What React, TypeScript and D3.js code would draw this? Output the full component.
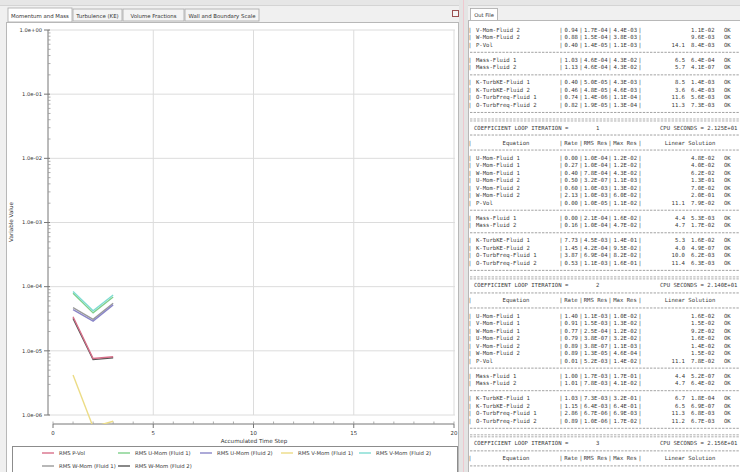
import React from "react";
import * as d3 from "d3";

// ---------- chart data ----------
const timeSteps = [1, 2, 3];
const seriesNames = [
  "RMS P-Vol",
  "RMS U-Mom (Fluid 1)",
  "RMS U-Mom (Fluid 2)",
  "RMS V-Mom (Fluid 1)",
  "RMS V-Mom (Fluid 2)",
  "RMS W-Mom (Fluid 1)",
  "RMS W-Mom (Fluid 2)",
];
const pVol = [3.4e-5, 7.6e-6, 8.1e-6];
const uMomF1 = [7.9e-5, 3.9e-5, 6.9e-5];
const uMomF2 = [4.4e-5, 2.9e-5, 5.2e-5];
const vMomF1 = [4.2e-6, 6.5e-7, 8.0e-7];
const vMomF2 = [8.4e-5, 4.2e-5, 7.4e-5];
const wMomF1 = [4.7e-5, 3.1e-5, 5.5e-5];
const wMomF2 = [3.2e-5, 7.3e-6, 7.8e-6];
const seriesColors = ["#d8708a", "#7fd08a", "#8a86c8", "#ecdc86", "#7fdcd2", "#9a9a9a", "#555555"];

const yTicks = [1, 1e-1, 1e-2, 1e-3, 1e-4, 1e-5, 1e-6];
const yTickLabels = ["1.0e+00", "1.0e-01", "1.0e-02", "1.0e-03", "1.0e-04", "1.0e-05", "1.0e-06"];
const xTicks = [0, 5, 10, 15, 20];
const tabNames = ["Momentum and Mass", "Turbulence (KE)", "Volume Fractions", "Wall and Boundary Scale"];

// ---------- out file text data ----------
const eqNames = [
  "U-Mom-Fluid 1", "V-Mom-Fluid 1", "W-Mom-Fluid 1", "U-Mom-Fluid 2", "V-Mom-Fluid 2", "W-Mom-Fluid 2", "P-Vol",
  "Mass-Fluid 1", "Mass-Fluid 2",
  "K-TurbKE-Fluid 1", "K-TurbKE-Fluid 2", "O-TurbFreq-Fluid 1", "O-TurbFreq-Fluid 2",
];
const loopNumbers = ["3", "1", "2", "3"];
const cpuSeconds = ["2.109E+01", "2.125E+01", "2.140E+01", "2.156E+01"];
const block0 = [
  "0.81|1.2E-04|3.4E-03||1.1E-02", "0.77|1.3E-04|4.1E-03||1.3E-02", "0.85|1.1E-04|2.9E-03||1.0E-02",
  "0.79|4.2E-04|3.1E-03||1.2E-02", "0.94|1.7E-04|4.4E-03||1.1E-02", "0.88|1.5E-04|3.8E-03||9.6E-03",
  "0.40|1.4E-05|1.1E-03|14.1|8.4E-03",
  "1.03|4.6E-04|4.3E-02|6.5|6.4E-04", "1.13|4.6E-04|4.3E-02|5.7|4.1E-07",
  "0.40|5.0E-05|4.3E-03|8.5|1.4E-03", "0.46|4.8E-05|4.6E-03|3.6|6.4E-03",
  "0.74|1.4E-06|1.1E-04|11.6|5.6E-03", "0.82|1.9E-05|1.3E-04|11.3|7.3E-03",
];
const block1 = [
  "0.00|1.0E-04|1.2E-02||4.8E-02", "0.27|1.0E-04|1.2E-02||4.0E-02", "0.40|7.8E-04|4.3E-02||6.2E-02",
  "0.50|3.2E-07|1.1E-03||1.3E-01", "0.60|1.0E-03|1.3E-02||7.0E-02", "2.13|1.0E-03|6.0E-02||2.0E-01",
  "0.00|1.0E-05|1.1E-02|11.1|7.9E-02",
  "0.00|2.1E-04|1.6E-02|4.4|5.3E-03", "0.16|1.0E-04|4.7E-02|4.7|1.7E-02",
  "7.73|4.5E-03|1.4E-01|5.3|1.6E-02", "1.45|4.2E-04|9.5E-02|4.0|4.9E-07",
  "3.87|6.9E-04|8.2E-02|10.0|6.2E-03", "0.53|1.1E-03|1.6E-01|11.4|6.3E-03",
];
const block2 = [
  "1.40|1.1E-03|1.0E-02||1.6E-02", "0.91|1.5E-03|1.3E-02||1.5E-02", "0.77|2.5E-04|1.2E-02||9.2E-02",
  "0.79|3.8E-07|3.2E-02||1.6E-02", "0.89|3.8E-07|1.1E-03||1.4E-02", "0.89|1.3E-05|4.6E-04||1.5E-02",
  "0.01|5.2E-03|1.4E-02|11.1|7.8E-02",
  "1.00|1.7E-03|1.7E-01|4.4|5.2E-07", "1.01|7.8E-03|4.1E-02|4.7|6.4E-02",
  "1.03|7.3E-03|3.2E-01|6.7|1.8E-04", "1.15|6.4E-03|6.4E-01|6.5|6.9E-07",
  "2.86|6.7E-06|6.9E-03|11.3|6.8E-03", "0.89|1.0E-06|1.7E-02|11.2|6.7E-03",
];
const block3 = [
  "0.98|6.2E-04|9.1E-03||1.1E-02", "0.95|7.1E-04|1.0E-02||1.2E-02", "0.92|1.9E-04|8.8E-03||8.9E-02",
  "0.90|3.5E-07|2.4E-02||1.4E-02", "0.91|3.4E-07|9.8E-04||1.3E-02", "0.93|1.1E-05|4.0E-04||1.4E-02",
  "0.52|2.7E-03|1.0E-02|11.0|7.5E-02",
  "0.71|1.2E-03|1.2E-01|4.3|5.0E-07", "0.69|5.4E-03|3.0E-02|4.6|6.0E-02",
  "0.85|6.2E-03|2.7E-01|6.6|1.7E-04", "0.88|5.6E-03|5.5E-01|6.4|6.5E-07",
  "0.94|6.3E-06|6.4E-03|11.2|6.6E-03", "0.92|9.2E-07|1.5E-02|11.1|6.5E-03",
];
const blocks = [block0, block1, block2, block3];

type Line = { kind: string; block?: number; row?: number };

function buildLines(): Line[] {
  const out: Line[] = [];
  blocks.forEach((_, b) => {
    out.push({ kind: "head", block: b });
    out.push({ kind: "dash" });
    out.push({ kind: "eqhead" });
    out.push({ kind: "plus" });
    for (let r = 0; r < 7; r++) out.push({ kind: "row", block: b, row: r });
    out.push({ kind: "plus" });
    for (let r = 7; r < 9; r++) out.push({ kind: "row", block: b, row: r });
    out.push({ kind: "plus" });
    for (let r = 9; r < 13; r++) out.push({ kind: "row", block: b, row: r });
    out.push({ kind: "plus" });
    out.push({ kind: "dbl" });
  });
  return out;
}

const MONO = "'DejaVu Sans Mono', 'Liberation Mono', monospace";
const SANS = "'DejaVu Sans', 'Liberation Sans', sans-serif";

function OutFile() {
  const lines = buildLines();
  const pitch = 7.52;
  const y0 = 127.5 - 21 * pitch;
  const fs = 5.6;
  const tc = "#3a3a3a";
  const colBars = [470, 561, 581, 610, 640];
  const els: React.ReactNode[] = [];
  lines.forEach((ln, i) => {
    const y = y0 + i * pitch;
    const isText = ln.kind === "head" || ln.kind === "eqhead" || ln.kind === "row";
    if (isText && (y < 25 || y > 466)) return;
    if (!isText && (y < 23 || y > 471)) return;
    const base = y + 2;
    if (ln.kind === "head") {
      els.push(
        <g key={i} fill={tc} fontFamily={MONO} fontSize={fs}>
          <text x={474} y={base}>COEFFICIENT LOOP ITERATION =</text>
          <text x={596} y={base}>{loopNumbers[ln.block!]}</text>
          <text x={660} y={base}>CPU SECONDS = {cpuSeconds[ln.block!]}</text>
        </g>
      );
    } else if (ln.kind === "dash" || ln.kind === "plus") {
      els.push(
        <line key={i} x1={470} x2={740} y1={y} y2={y} stroke="#8c8c8c" strokeWidth={0.8} strokeDasharray="2.4,1.2" />
      );
    } else if (ln.kind === "dbl") {
      els.push(
        <g key={i} stroke="#8c8c8c" strokeWidth={0.7} strokeDasharray="2.4,1.2">
          <line x1={470} x2={740} y1={y - 1} y2={y - 1} />
          <line x1={470} x2={740} y1={y + 1} y2={y + 1} />
        </g>
      );
    } else if (ln.kind === "eqhead") {
      els.push(
        <g key={i} fill={tc} fontFamily={MONO} fontSize={fs}>
          {colBars.map((cx, k) => (
            <text key={k} x={cx} y={base} textAnchor="middle">|</text>
          ))}
          <text x={516} y={base} textAnchor="middle">Equation</text>
          <text x={571} y={base} textAnchor="middle">Rate</text>
          <text x={595.5} y={base} textAnchor="middle">RMS Res</text>
          <text x={625} y={base} textAnchor="middle">Max Res</text>
          <text x={690} y={base} textAnchor="middle">Linear Solution</text>
        </g>
      );
    } else if (ln.kind === "row") {
      const vals = blocks[ln.block!][ln.row!].split("|");
      els.push(
        <g key={i} fill={tc} fontFamily={MONO} fontSize={fs}>
          {colBars.map((cx, k) => (
            <text key={k} x={cx} y={base} textAnchor="middle">|</text>
          ))}
          <text x={476} y={base}>{eqNames[ln.row!]}</text>
          <text x={564.5} y={base}>{vals[0]}</text>
          <text x={584} y={base}>{vals[1]}</text>
          <text x={613.5} y={base}>{vals[2]}</text>
          <text x={685} y={base} textAnchor="end">{vals[3]}</text>
          <text x={691} y={base}>{vals[4]}</text>
          <text x={724} y={base}>OK</text>
        </g>
      );
    }
  });
  return (
    <g>
      <defs>
        <clipPath id="txtclip">
          <rect x={468} y={22} width={272} height={450} />
        </clipPath>
      </defs>
      <g clipPath="url(#txtclip)">{els}</g>
    </g>
  );
}

export default function App() {
  const W = 740;
  const H = 472;
  const x = d3.scaleLinear().domain([0, 20]).range([53, 454]);
  const y = d3.scaleLog().domain([1e-6, 1]).range([415, 30]);
  const series = [pVol, uMomF1, uMomF2, vMomF1, vMomF2, wMomF1, wMomF2];
  const drawOrder = [3, 6, 0, 5, 2, 1, 4];
  const lineGen = d3
    .line<number>()
    .x((_, i) => x(timeSteps[i]))
    .y((d) => y(d));

  const minorY: number[] = [];
  for (let e = -6; e < 0; e++) for (let m = 2; m <= 9; m++) minorY.push(m * Math.pow(10, e));
  const minorX = d3.range(0, 21);

  const tabX = [8, 73, 123, 185];
  const tabW = [64, 49, 61, 74];

  const legendPos = [
    { x: 42, y: 453 }, { x: 118, y: 453 }, { x: 200, y: 453 }, { x: 281, y: 453 }, { x: 359, y: 453 },
    { x: 42, y: 466 }, { x: 118, y: 466 },
  ];

  return (
    <svg width={W} height={H} style={{ position: "absolute", left: 0, top: 0, display: "block" }}>
      <rect x={0} y={0} width={W} height={H} fill="#f0f0f0" />
      <rect x={0} y={0} width={W} height={5} fill="#e6e6e6" />
      <line x1={0} x2={W} y1={5.5} y2={5.5} stroke="#d4d4d4" />

      {/* tabs */}
      {tabNames.map((t, i) => (
        <g key={t}>
          <rect x={tabX[i]} y={i === 0 ? 8 : 9} width={tabW[i]} height={i === 0 ? 14 : 12}
            fill={i === 0 ? "#ffffff" : "#f4f4f4"} stroke="#a8a8a8" strokeWidth={0.8} />
          <text x={tabX[i] + tabW[i] / 2} y={17.5} textAnchor="middle" fontFamily={SANS} fontSize={5.4} fill="#333">{t}</text>
        </g>
      ))}
      {/* small icon */}
      <rect x={452.5} y={10.5} width={6} height={6} fill="#f6f6f6" stroke="#9a5050" strokeWidth={1} />

      {/* left white panel */}
      <rect x={6.5} y={22.5} width={452} height={452} fill="#ffffff" stroke="#b8b8b8" strokeWidth={1} />

      {/* grid */}
      {yTicks.map((t) => (
        <line key={"gy" + t} x1={48} x2={455} y1={y(t)} y2={y(t)} stroke="#dcdcdc" strokeWidth={1} />
      ))}
      {[5, 10, 15, 20].map((t) => (
        <line key={"gx" + t} x1={x(t)} x2={x(t)} y1={30} y2={415} stroke="#dcdcdc" strokeWidth={1} />
      ))}

      {/* y axis */}
      <line x1={48} x2={48} y1={30} y2={415} stroke="#777" strokeWidth={1} />
      {yTicks.map((t, i) => (
        <g key={"yt" + t}>
          <line x1={44} x2={50} y1={y(t)} y2={y(t)} stroke="#777" />
          <text x={42} y={y(t) + 1.8} textAnchor="end" fontFamily={SANS} fontSize={5.2} fill="#333">{yTickLabels[i]}</text>
        </g>
      ))}
      {minorY.map((t) => (
        <line key={"ym" + t} x1={48} x2={50.5} y1={y(t)} y2={y(t)} stroke="#999" strokeWidth={0.8} />
      ))}
      <text transform={`translate(13,${222}) rotate(-90)`} textAnchor="middle" fontFamily={SANS} fontSize={5.6} fill="#333">Variable Value</text>

      {/* x axis */}
      <line x1={53} x2={454} y1={424} y2={424} stroke="#777" strokeWidth={1} />
      {minorX.map((t) => (
        <line key={"xm" + t} x1={x(t)} x2={x(t)} y1={421.5} y2={424} stroke="#999" strokeWidth={0.8} />
      ))}
      {xTicks.map((t) => (
        <g key={"xt" + t}>
          <line x1={x(t)} x2={x(t)} y1={424} y2={428} stroke="#777" />
          <text x={x(t)} y={435} textAnchor="middle" fontFamily={SANS} fontSize={5.4} fill="#333">{t}</text>
        </g>
      ))}
      <text x={254} y={443} textAnchor="middle" fontFamily={SANS} fontSize={5.6} fill="#333">Accumulated Time Step</text>

      {/* series */}
      <defs>
        <clipPath id="plotclip">
          <rect x={48} y={28} width={408} height={396} />
        </clipPath>
      </defs>
      <g clipPath="url(#plotclip)" fill="none">
        {drawOrder.map((k) => (
          <path key={"s" + k} d={lineGen(series[k]) || ""} stroke={seriesColors[k]} strokeWidth={1.4} />
        ))}
      </g>

      {/* legend */}
      <rect x={12.5} y={446.5} width={445} height={30} fill="#ffffff" stroke="#8c8c8c" strokeWidth={1} />
      {seriesNames.map((n, i) => (
        <g key={n}>
          <line x1={legendPos[i].x} x2={legendPos[i].x + 12} y1={legendPos[i].y} y2={legendPos[i].y} stroke={seriesColors[i]} strokeWidth={1.4} />
          <text x={legendPos[i].x + 17} y={legendPos[i].y + 1.9} fontFamily={SANS} fontSize={5.3} fill="#333">{n}</text>
        </g>
      ))}

      {/* divider */}
      <rect x={459} y={0} width={9} height={H} fill="#e4e4e4" />
      <line x1={463.5} x2={463.5} y1={0} y2={H} stroke="#efc8cf" strokeWidth={1} />

      {/* right panel */}
      <rect x={470.5} y={8.5} width={27} height={12} fill="#ffffff" stroke="#a8a8a8" strokeWidth={0.8} />
      <text x={484} y={16.8} textAnchor="middle" fontFamily={SANS} fontSize={5.2} fill="#333">Out File</text>
      <rect x={468.5} y={20.5} width={272} height={452} fill="#ffffff" stroke="#b8b8b8" strokeWidth={1} />
      <OutFile />
    </svg>
  );
}
